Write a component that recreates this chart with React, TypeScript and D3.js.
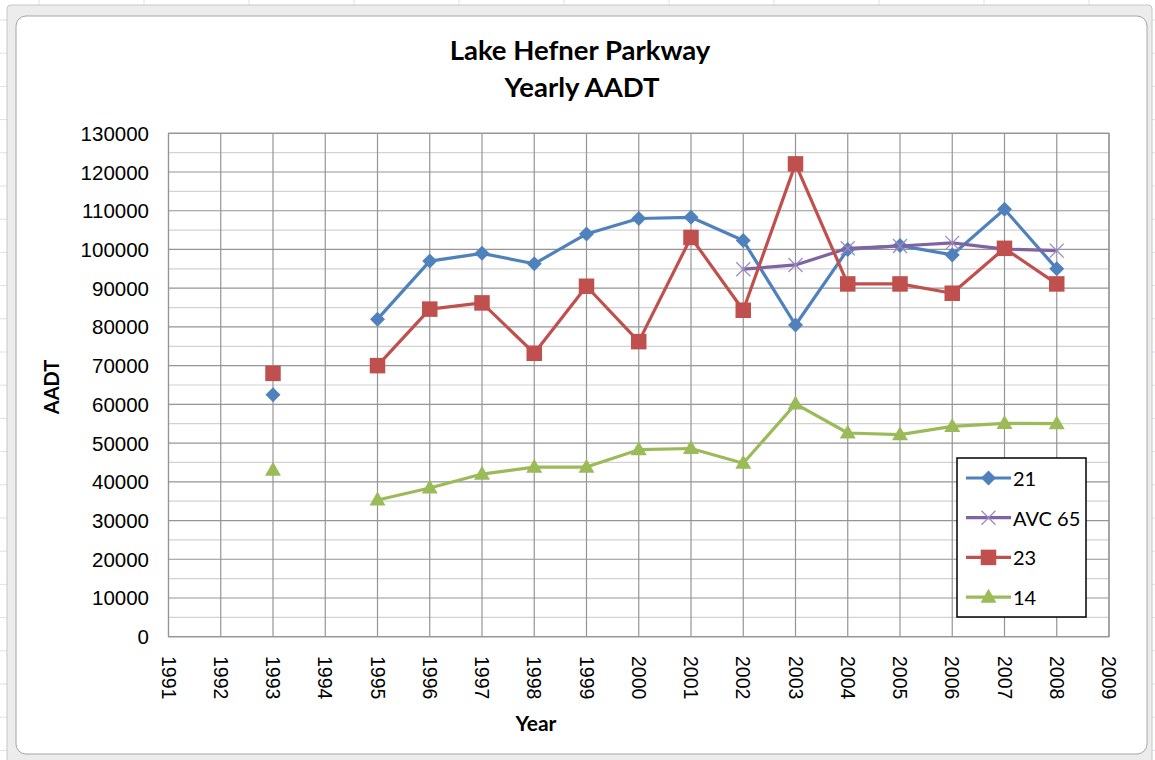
import React from "react";
import * as d3 from "d3";

const years = [1991, 1992, 1993, 1994, 1995, 1996, 1997, 1998, 1999, 2000, 2001, 2002, 2003, 2004, 2005, 2006, 2007, 2008, 2009];
const dataYears = [1993, 1994, 1995, 1996, 1997, 1998, 1999, 2000, 2001, 2002, 2003, 2004, 2005, 2006, 2007, 2008];
const s21 = [62500, null, 82000, 97000, 99000, 96300, 104000, 108000, 108300, 102300, 80500, 100000, 101000, 98600, 110400, 95000];
const sAvc65 = [null, null, null, null, null, null, null, null, null, 94900, 96000, 100300, 100900, 101700, 100100, 99700];
const s23 = [68000, null, 70000, 84600, 86200, 73200, 90500, 76200, 103100, 84300, 122100, 91100, 91100, 88700, 100300, 91100];
const s14 = [43000, null, 35300, 38400, 42000, 43800, 43800, 48300, 48600, 44800, 60100, 52600, 52200, 54300, 55100, 55000];
const yTicks = [0, 10000, 20000, 30000, 40000, 50000, 60000, 70000, 80000, 90000, 100000, 110000, 120000, 130000];
const minorTicks = [5000, 15000, 25000, 35000, 45000, 55000, 65000, 75000, 85000, 95000, 105000, 115000, 125000];

const seriesList = [
  { name: "21", values: s21, color: "#4F81BD", marker: "diamond" },
  { name: "AVC 65", values: sAvc65, color: "#8064A2", marker: "x" },
  { name: "23", values: s23, color: "#C0504D", marker: "square" },
  { name: "14", values: s14, color: "#9BBB59", marker: "triangle" },
];

const W = 1155;
const H = 760;
const x = d3.scaleLinear().domain([1991, 2009]).range([168.5, 1109]);
const y = d3.scaleLinear().domain([0, 130000]).range([636.7, 133.3]);
const FONT = "Lato, 'Open Sans', sans-serif";
const TICKFONT = "'Liberation Sans', Arial, sans-serif";

function Marker({ type, cx, cy, color }: { type: string; cx: number; cy: number; color: string }) {
  if (type === "diamond") {
    const r = 7.5;
    return <path d={`M${cx},${cy - r}L${cx + r},${cy}L${cx},${cy + r}L${cx - r},${cy}Z`} fill={color} />;
  }
  if (type === "square") {
    const s = 15.5;
    return <rect x={cx - s / 2} y={cy - s / 2} width={s} height={s} fill={color} />;
  }
  if (type === "triangle") {
    const w = 16, h = 14;
    return <path d={`M${cx},${cy - h * 0.6}L${cx + w / 2},${cy + h * 0.4}L${cx - w / 2},${cy + h * 0.4}Z`} fill={color} />;
  }
  const r = 7;
  return (
    <g stroke="#9d88c4" strokeWidth={1.3}>
      <line x1={cx - r} y1={cy - r} x2={cx + r} y2={cy + r} />
      <line x1={cx - r} y1={cy + r} x2={cx + r} y2={cy - r} />
    </g>
  );
}

export default function App() {
  const line = d3
    .line<[number, number | null]>()
    .defined((d) => d[1] !== null)
    .x((d) => x(d[0]))
    .y((d) => y(d[1] as number));

  const colLines: number[] = [];
  for (let cx = 39; cx < W; cx += 105) colLines.push(cx);
  const rowLines: number[] = [];
  for (let ry = 20; ry < H; ry += 33.2) rowLines.push(ry);

  return (
    <svg width={W} height={H} style={{ position: "absolute", left: 0, top: 0 }} fontFamily={FONT}>
      <rect x={0} y={0} width={W} height={H} fill="#ffffff" />
      {colLines.map((c) => (
        <line key={"c" + c} x1={c} x2={c} y1={0} y2={H} stroke="#dbe2ec" strokeWidth={1} />
      ))}
      {rowLines.map((r) => (
        <line key={"r" + r} x1={0} x2={W} y1={r} y2={r} stroke="#dbe2ec" strokeWidth={1} />
      ))}
      {/* chart frame */}
      <rect x={7} y={5} width={1145} height={760} rx={4} fill="#ececec" stroke="#c6c6c6" strokeWidth={1} />
      <rect x={16} y={16} width={1131} height={738} rx={10} fill="#ffffff" stroke="#a6a6a6" strokeWidth={1} />

      {/* title */}
      <text x={580} y={60} textAnchor="middle" fontSize={27.5} fontWeight="bold" fill="#000">Lake Hefner Parkway</text>
      <text x={582} y={97} textAnchor="middle" fontSize={27.5} fontWeight="bold" fill="#000">Yearly AADT</text>

      {/* gridlines */}
      {minorTicks.map((t) => (
        <line key={"m" + t} x1={x(1991)} x2={x(2009)} y1={y(t)} y2={y(t)} stroke="#d2d2d2" strokeWidth={1.2} />
      ))}
      {yTicks.map((t) => (
        <line key={"y" + t} x1={x(1991)} x2={x(2009)} y1={y(t)} y2={y(t)} stroke="#959595" strokeWidth={1.2} />
      ))}
      {years.map((yr) => (
        <line key={"v" + yr} x1={x(yr)} x2={x(yr)} y1={y(0)} y2={y(130000)} stroke="#959595" strokeWidth={1.2} />
      ))}
      <rect x={x(1991)} y={y(130000)} width={x(2009) - x(1991)} height={y(0) - y(130000)} fill="none" stroke="#959595" strokeWidth={1.2} />

      {/* y tick labels */}
      {yTicks.map((t) => (
        <text key={"yl" + t} x={149} y={y(t)} textAnchor="end" dominantBaseline="central" fontSize={20.5} fontFamily={TICKFONT} fill="#000">
          {t}
        </text>
      ))}
      {/* x tick labels */}
      {years.map((yr) => (
        <text
          key={"xl" + yr}
          transform={`translate(${x(yr)},656) rotate(90)`}
          textAnchor="start"
          dominantBaseline="central"
          fontSize={19.5}
          fontFamily={TICKFONT}
          fill="#000"
        >
          {yr}
        </text>
      ))}
      <text x={536} y={731} textAnchor="middle" fontSize={21} fontWeight="bold" fill="#000">Year</text>
      <text transform="translate(59,387) rotate(-90)" textAnchor="middle" fontSize={20} fontWeight="bold" fill="#000">AADT</text>

      {/* series */}
      {seriesList.map((s) => {
        const pts: [number, number | null][] = dataYears.map((yr, i) => [yr, s.values[i]]);
        return (
          <g key={s.name}>
            <path d={line(pts) || ""} fill="none" stroke={s.color} strokeWidth={3.2} strokeLinejoin="round" strokeLinecap="round" />
            {pts
              .filter((p) => p[1] !== null)
              .map((p) => (
                <Marker key={p[0]} type={s.marker} cx={x(p[0])} cy={y(p[1] as number)} color={s.color} />
              ))}
          </g>
        );
      })}

      {/* legend */}
      <rect x={957} y={458} width={129} height={159} fill="#ffffff" stroke="#000" strokeWidth={1.5} />
      {seriesList.map((s, i) => {
        const ly = 478 + i * 39.7;
        return (
          <g key={"lg" + s.name}>
            <line x1={966} x2={1011} y1={ly} y2={ly} stroke={s.color} strokeWidth={3.2} />
            <Marker type={s.marker} cx={988.5} cy={ly} color={s.color} />
            <text x={1013} y={ly} dominantBaseline="central" fontSize={20} fill="#000">{s.name}</text>
          </g>
        );
      })}
    </svg>
  );
}
